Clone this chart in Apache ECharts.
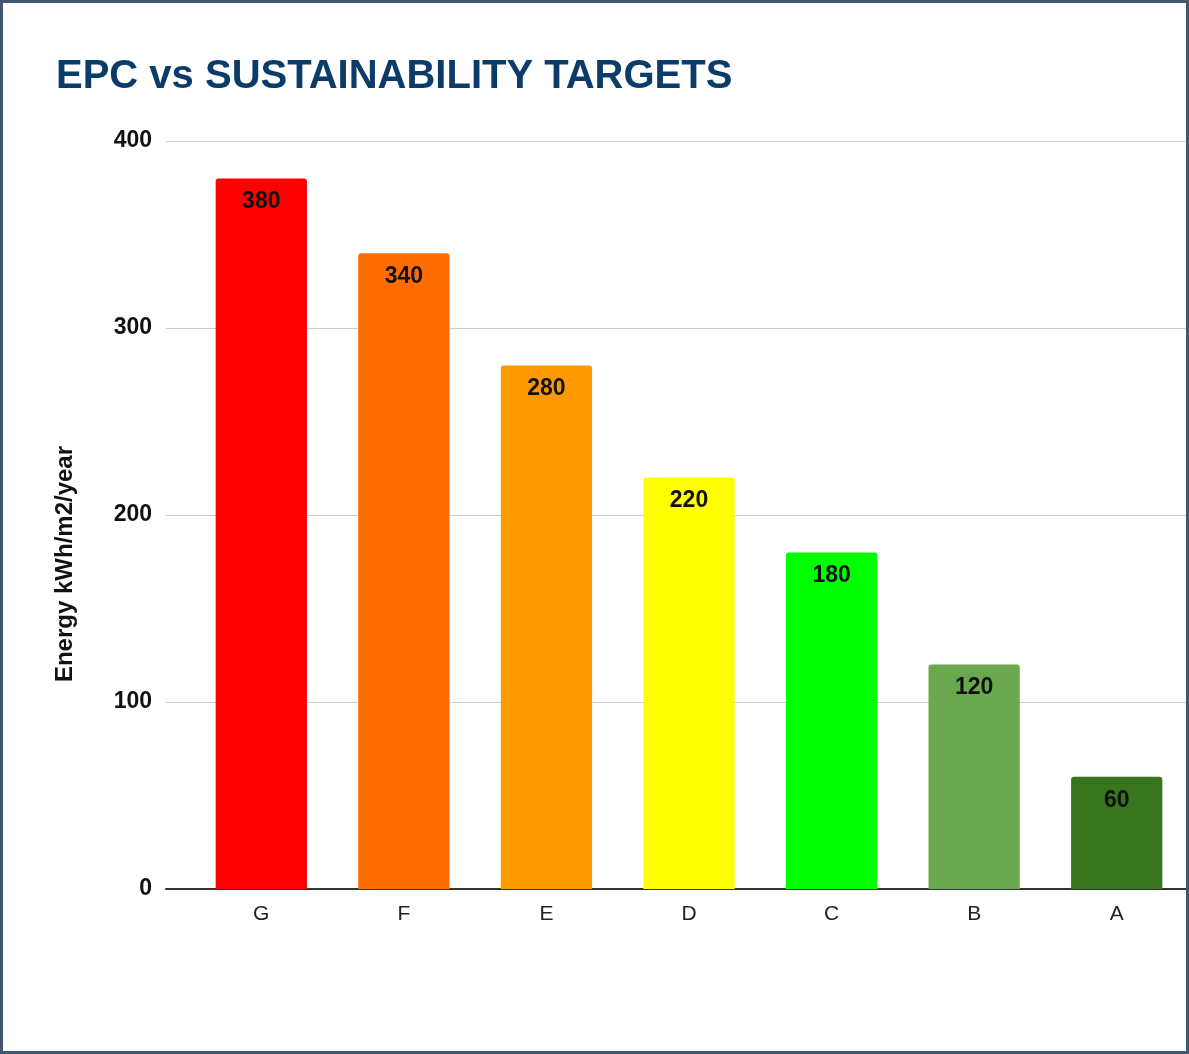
<!DOCTYPE html>
<html>
<head>
<meta charset="utf-8">
<script src="https://cdn.jsdelivr.net/npm/echarts@6/dist/echarts.min.js"></script>
<style>
html,body{margin:0;padding:0;background:#fff;}
#wrap{position:relative;width:1189px;height:1054px;}
#chart{position:absolute;left:0;top:0;width:1189px;height:1054px;}
#frame{position:absolute;left:0;top:0;width:1189px;height:1054px;box-sizing:border-box;border:3px solid #415771;pointer-events:none;}
</style>
</head>
<body>
<div id="wrap"><div id="chart"></div><div id="frame"></div></div>
<script>
const categories = ['G', 'F', 'E', 'D', 'C', 'B', 'A'];
const values = [380, 340, 280, 220, 180, 120, 60];
const barColors = ['#ff0000', '#ff6d01', '#ff9900', '#ffff00', '#00ff00', '#6aa84f', '#38761d'];
const yTicks = [0, 100, 200, 300, 400];
const titleText = 'EPC vs SUSTAINABILITY TARGETS';
const yAxisTitle = 'Energy kWh/m2/year';

const font = 'Arial, "Liberation Sans", sans-serif';
const chart = echarts.init(document.getElementById('chart'), null, {renderer: 'canvas'});
const yMin = yTicks[0], yMax = yTicks[yTicks.length - 1], yInt = yTicks[1] - yTicks[0];

chart.setOption({
  animation: false,
  backgroundColor: '#ffffff',
  title: {
    text: titleText,
    left: 51, top: 52,
    textStyle: {fontFamily: font, fontSize: 40, fontWeight: 'bold', color: '#0b3c69'}
  },
  grid: [
    {left: 166, right: 2, top: 141, bottom: 165, containLabel: false},
    {left: 190, right: 1, top: 141, bottom: 165, containLabel: false}
  ],
  xAxis: [
    {gridIndex: 0, type: 'category', data: categories, show: true,
     axisLine: {show: true, lineStyle: {color: '#333333', width: 2}},
     axisTick: {show: false}, axisLabel: {show: false}, splitLine: {show: false}},
    {gridIndex: 1, type: 'category', data: categories,
     axisLine: {show: false}, axisTick: {show: false},
     axisLabel: {fontFamily: font, fontSize: 21, color: '#222222', margin: 15}}
  ],
  yAxis: [
    {gridIndex: 0, type: 'value', min: yMin, max: yMax, interval: yInt,
     axisLine: {show: false}, axisTick: {show: false},
     axisLabel: {fontFamily: font, fontSize: 23, fontWeight: 'bold', color: '#111111', margin: 14},
     splitLine: {lineStyle: {color: '#cccccc', width: 1}}},
    {gridIndex: 1, type: 'value', min: yMin, max: yMax, interval: yInt, show: false,
     splitLine: {show: false}}
  ],
  graphic: [{
    type: 'text', x: 65, y: 564, rotation: Math.PI / 2,
    style: {text: yAxisTitle, fontFamily: font, fontSize: 24, fontWeight: 'bold', fill: '#111111',
            align: 'center', verticalAlign: 'middle'}
  }],
  series: [{
    type: 'bar', xAxisIndex: 1, yAxisIndex: 1,
    data: values.map((v, i) => ({value: v, itemStyle: {color: barColors[i]}})),
    barWidth: '64%',
    itemStyle: {borderRadius: [3, 3, 0, 0]},
    label: {show: true, position: 'insideTop', distance: 12,
            fontFamily: font, fontSize: 23, fontWeight: 'bold', color: '#111111'}
  }]
});
</script>
</body>
</html>
